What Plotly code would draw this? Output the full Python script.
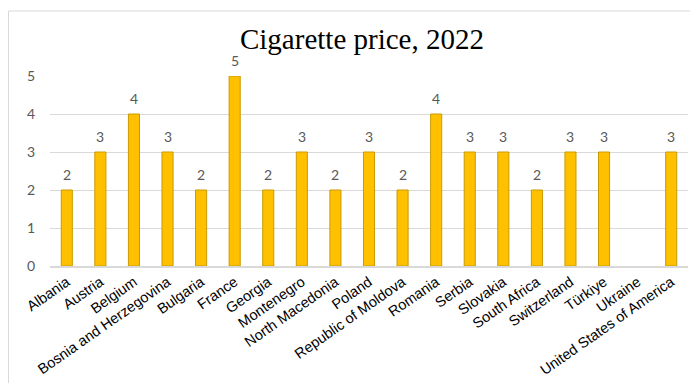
import plotly.graph_objects as go

countries = ["Albania", "Austria", "Belgium", "Bosnia and Herzegovina", "Bulgaria", "France",
             "Georgia", "Montenegro", "North Macedonia", "Poland", "Republic of Moldova", "Romania",
             "Serbia", "Slovakia", "South Africa", "Switzerland", "Türkiye", "Ukraine",
             "United States of America"]
prices = [2, 3, 4, 3, 2, 5, 2, 3, 2, 3, 2, 4, 3, 3, 2, 3, 3, None, 3]

fig = go.Figure(go.Bar(
    x=countries, y=prices,
    marker=dict(color="#FFC000", line=dict(color="#C99A00", width=1)),
    cliponaxis=False,
))

for c, v in zip(countries, prices):
    if v is None:
        continue
    fig.add_annotation(x=c, y=v, text=str(v), showarrow=False, yanchor="bottom", yshift=5,
                       font=dict(family="Lato, Liberation Sans", size=14, color="#595959"))

fig.update_layout(
    width=690, height=375,
    margin=dict(l=42, r=10, t=68, b=117, autoexpand=False),
    paper_bgcolor="white", plot_bgcolor="white",
    bargap=0.67,
    showlegend=False,
    title=dict(text="Cigarette price, 2022", x=0.513, xanchor="center", y=0.917, yanchor="middle",
               font=dict(family="Liberation Serif, DejaVu Serif", size=29, color="black")),
    xaxis=dict(tickangle=-35, automargin=False,
               tickfont=dict(family="Liberation Sans, Arial", size=14.5, color="black"),
               showline=True, linecolor="#D9D9D9", linewidth=2, ticks="", showgrid=False),
    yaxis=dict(range=[0, 5], tickvals=[0, 1, 2, 3, 4, 5], gridcolor="#D9D9D9", gridwidth=1,
               zeroline=False, automargin=False,
               tickfont=dict(family="Lato, Liberation Sans", size=14, color="#595959"),
               ticks="", ticklabelstandoff=14),
    shapes=[dict(type="rect", xref="paper", yref="paper", x0=-0.065, x1=1.05, y0=-0.7, y1=1.342,
                 line=dict(color="#D9D9D9", width=1), fillcolor="rgba(0,0,0,0)", layer="below")],
)

fig.write_html("out.html")
